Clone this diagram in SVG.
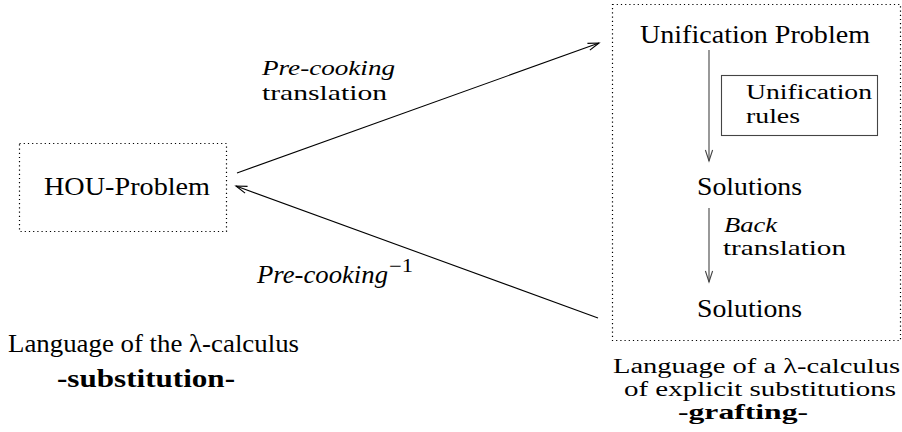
<svg xmlns="http://www.w3.org/2000/svg" width="902" height="432" viewBox="0 0 902 432" font-family="'Liberation Serif', 'Times New Roman', Times, serif">
  <style>
    text { font-family: 'Liberation Serif', 'Times New Roman', Times, serif; font-size: 26px; fill: #000; }
    .it { font-style: italic; }
    .bf { font-weight: bold; }
    .sm { font-size: 22px; }
    .xs { font-size: 20px; }
    .sup { font-size: 18px; }
    .frame { fill: none; stroke: #000; stroke-width: 1.2; stroke-dasharray: 1.2 3; }
    .edge { fill: none; stroke: #000; stroke-width: 1.1; }
    .step { fill: none; stroke: #444; stroke-width: 1.1; }
    .rulebox { fill: none; stroke: #444; stroke-width: 1.1; }
  </style>
  <defs>
    <marker id="vee" markerUnits="userSpaceOnUse" markerWidth="14" markerHeight="10" viewBox="-12 -5 14 10" refX="0" refY="0" orient="auto">
      <path d="M-11,-3.6 L0,0 L-11,3.6" fill="none" stroke="#000" stroke-width="1.1"/>
    </marker>
    <marker id="vee-grey" markerUnits="userSpaceOnUse" markerWidth="14" markerHeight="10" viewBox="-12 -5 14 10" refX="0" refY="0" orient="auto">
      <path d="M-11,-3.6 L0,0 L-11,3.6" fill="none" stroke="#444" stroke-width="1.1"/>
    </marker>
  </defs>

  <!-- source side: plain lambda-calculus -->
  <g id="hou-problem">
    <rect class="frame" x="19.5" y="143.5" width="207" height="88"/>
    <text x="44" y="195" textLength="166" lengthAdjust="spacingAndGlyphs">HOU-Problem</text>
  </g>

  <g id="lambda-language">
    <text x="8" y="352" textLength="291" lengthAdjust="spacingAndGlyphs">Language of the λ-calculus</text>
    <text class="bf" x="57" y="387" textLength="178" lengthAdjust="spacingAndGlyphs">-substitution-</text>
  </g>

  <!-- target side: explicit substitutions -->
  <g id="explicit-frame">
    <rect class="frame" x="612.5" y="4.5" width="288" height="336"/>
  </g>

  <g id="unification-problem">
    <text x="640" y="43" textLength="230" lengthAdjust="spacingAndGlyphs">Unification Problem</text>
  </g>

  <g id="unification-rules">
    <rect class="rulebox" x="721.5" y="75.5" width="156" height="60"/>
    <text class="xs" x="746" y="99" textLength="126" lengthAdjust="spacingAndGlyphs">Unification</text>
    <text class="xs" x="746" y="123" textLength="54" lengthAdjust="spacingAndGlyphs">rules</text>
  </g>

  <g id="solutions-explicit">
    <text x="697" y="195" textLength="105" lengthAdjust="spacingAndGlyphs">Solutions</text>
  </g>

  <g id="solutions-lambda">
    <text x="697" y="317" textLength="105" lengthAdjust="spacingAndGlyphs">Solutions</text>
  </g>

  <g id="explicit-language">
    <text class="xs" x="613" y="373" textLength="287" lengthAdjust="spacingAndGlyphs">Language of a λ-calculus</text>
    <text class="xs" x="624" y="396" textLength="272" lengthAdjust="spacingAndGlyphs">of explicit substitutions</text>
    <text class="xs bf" x="678" y="419" textLength="130" lengthAdjust="spacingAndGlyphs">-grafting-</text>
  </g>

  <!-- connectors -->
  <g id="connectors">
    <line class="edge" x1="237" y1="173" x2="599" y2="43" marker-end="url(#vee)"/>
    <line class="edge" x1="598" y1="318" x2="236" y2="186" marker-end="url(#vee)"/>
    <line class="step" x1="709" y1="50" x2="709" y2="161" marker-end="url(#vee-grey)"/>
    <line class="step" x1="709" y1="208" x2="709" y2="282" marker-end="url(#vee-grey)"/>

    <text class="it sm" x="262" y="75" textLength="133" lengthAdjust="spacingAndGlyphs">Pre-cooking</text>
    <text class="sm" x="262" y="100" textLength="125" lengthAdjust="spacingAndGlyphs">translation</text>

    <text class="it" x="257" y="283" textLength="131" lengthAdjust="spacingAndGlyphs">Pre-cooking</text>
    <text class="sup" x="389" y="272" textLength="24" lengthAdjust="spacingAndGlyphs">−1</text>

    <text class="it sm" x="724" y="232" textLength="53" lengthAdjust="spacingAndGlyphs">Back</text>
    <text class="sm" x="723" y="255" textLength="123" lengthAdjust="spacingAndGlyphs">translation</text>
  </g>
</svg>
